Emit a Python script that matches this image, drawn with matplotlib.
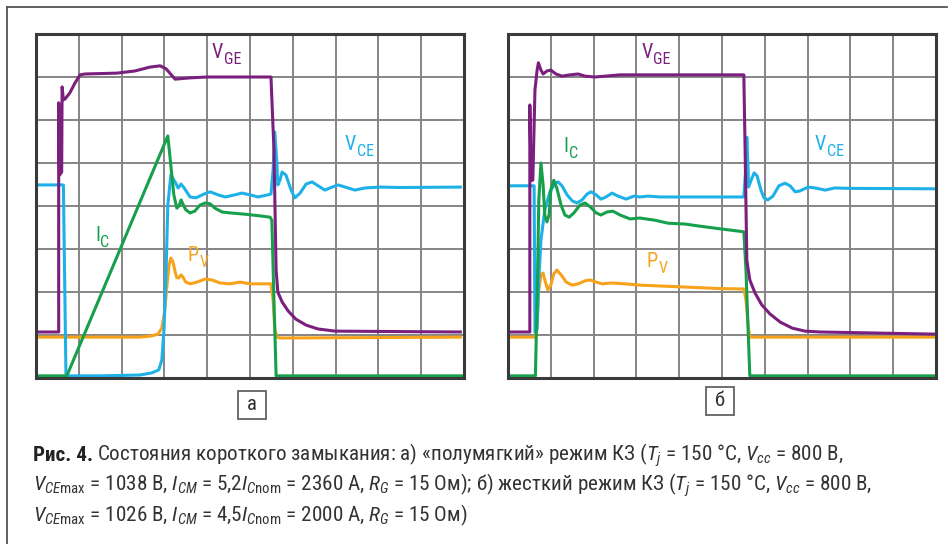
import matplotlib
matplotlib.use("Agg")
from matplotlib import pyplot as plt
from matplotlib import font_manager
from matplotlib.font_manager import FontProperties
from matplotlib.lines import Line2D
from matplotlib.patches import Rectangle

W, H = 949, 544

PURPLE = "#7b1f7e"
CYAN = "#1db1e8"
GREEN = "#17a04c"
ORANGE = "#f6a31b"


def pick_font(names):
    for name in names:
        try:
            font_manager.findfont(FontProperties(family=name), fallback_to_default=False)
            return name
        except ValueError:
            continue
    return "DejaVu Sans"


FONT = pick_font(["Liberation Sans Narrow", "DejaVu Sans Condensed",
                  "Roboto Condensed", "Liberation Sans"])
plt.rcParams["font.family"] = [FONT, "DejaVu Sans"]
plt.rcParams["mathtext.fontset"] = "custom"
plt.rcParams["mathtext.rm"] = FONT
plt.rcParams["mathtext.it"] = FONT + ":italic"
plt.rcParams["mathtext.bf"] = FONT + ":bold"

# Oscillograms in screen divisions (10 x 8).
# (а) semi-soft short circuit
a_vge_t = [0, 0.53, 0.53, 0.55, 0.60, 0.61, 0.64, 0.68, 0.79, 0.91, 1.03, 1.14, 1.89, 2.31,
           2.66, 2.90, 3.04, 3.25, 3.60, 4.00, 5.49, 5.56, 5.61, 5.65, 5.75, 5.89, 6.07, 6.31,
           6.59, 6.99, 9.95]
a_vge_v = [1.07, 1.07, 6.40, 4.72, 4.79, 6.77, 6.47, 6.49, 6.63, 6.86, 7.05, 7.07, 7.09, 7.14,
           7.23, 7.26, 7.19, 6.95, 6.98, 7.00, 7.00, 5.30, 2.51, 2.00, 1.77, 1.56, 1.37, 1.23,
           1.14, 1.09, 1.07]

a_vce_t = [0, 0.64, 0.70, 1.50, 2.43, 2.71, 2.87, 2.94, 2.99, 3.04, 3.08, 3.15, 3.25, 3.32,
           3.39, 3.46, 3.60, 3.74, 3.93, 4.07, 4.25, 4.42, 4.65, 4.81, 5.00, 5.19, 5.42, 5.49,
           5.54, 5.58, 5.63, 5.65, 5.70, 5.75, 5.84, 5.96, 6.05, 6.17, 6.31, 6.45, 6.59, 6.75,
           6.92, 7.06, 7.29, 7.45, 7.69, 8.04, 8.50, 9.95]
a_vce_v = [4.49, 4.49, 0.05, 0.05, 0.07, 0.12, 0.19, 0.42, 1.12, 2.51, 4.02, 4.72, 4.56, 4.42,
           4.51, 4.42, 4.21, 4.19, 4.28, 4.33, 4.26, 4.21, 4.26, 4.30, 4.26, 4.21, 4.26, 4.28,
           4.84, 5.72, 4.95, 4.49, 4.60, 4.79, 4.72, 4.37, 4.19, 4.30, 4.51, 4.56, 4.47, 4.37,
           4.44, 4.49, 4.42, 4.37, 4.42, 4.44, 4.43, 4.44]

a_ic_t = [0, 0.72, 3.08, 3.15, 3.22, 3.29, 3.34, 3.39, 3.43, 3.50, 3.60, 3.71, 3.83, 3.95,
          4.07, 4.18, 4.35, 4.53, 4.88, 5.23, 5.47, 5.51, 5.56, 5.61, 10]
a_ic_v = [0.05, 0.05, 5.63, 4.95, 4.26, 3.95, 4.00, 4.14, 4.05, 3.91, 3.84, 3.88, 4.02, 4.07,
          4.05, 3.95, 3.86, 3.84, 3.81, 3.77, 3.74, 3.67, 1.81, 0.05, 0.05]

a_pv_t = [0, 1.50, 2.43, 2.71, 2.85, 2.94, 3.01, 3.06, 3.11, 3.15, 3.20, 3.25, 3.29, 3.34,
          3.39, 3.43, 3.50, 3.60, 3.76, 3.95, 4.11, 4.30, 4.53, 4.77, 5.00, 5.49, 5.54, 5.58,
          5.63, 5.70, 9.95]
a_pv_v = [0.95, 0.95, 0.95, 0.98, 1.02, 1.16, 1.58, 2.16, 2.63, 2.79, 2.70, 2.47, 2.33, 2.33,
          2.40, 2.35, 2.23, 2.19, 2.23, 2.30, 2.28, 2.21, 2.19, 2.23, 2.19, 2.19, 1.81, 1.12,
          0.95, 0.93, 0.95]

# (б) hard short circuit
b_vge_t = [0, 0.51, 0.51, 0.54, 0.58, 0.63, 0.68, 0.71, 0.77, 0.82, 0.91, 1.00, 1.12, 1.26,
           1.45, 1.64, 1.80, 2.03, 2.27, 2.62, 5.51, 5.54, 5.58, 5.65, 5.77, 5.93, 6.12, 6.36,
           6.64, 6.94, 7.29, 9.98]
b_vge_v = [1.07, 1.07, 6.35, 4.60, 4.60, 6.70, 7.16, 7.33, 7.16, 7.07, 7.14, 7.16, 7.07, 7.02,
           7.05, 7.07, 7.02, 7.00, 7.02, 7.05, 7.05, 5.30, 2.74, 2.28, 1.98, 1.70, 1.49, 1.30,
           1.16, 1.09, 1.07, 1.02]

b_vce_t = [0, 0.58, 0.61, 0.63, 0.68, 0.72, 0.77, 0.86, 0.98, 1.10, 1.17, 1.26, 1.38, 1.50,
           1.61, 1.73, 1.85, 1.94, 2.06, 2.17, 2.29, 2.43, 2.57, 2.76, 2.94, 3.08, 3.27, 3.55,
           5.51, 5.56, 5.58, 5.61, 5.62, 5.68, 5.75, 5.82, 5.91, 5.98, 6.07, 6.19, 6.33, 6.47,
           6.59, 6.71, 6.82, 7.01, 7.17, 7.41, 7.64, 7.99, 9.98]
b_vce_v = [4.47, 4.47, 4.47, 1.07, 1.12, 2.28, 3.21, 3.91, 4.33, 4.53, 4.56, 4.47, 4.26, 4.12,
           4.07, 4.14, 4.28, 4.33, 4.26, 4.16, 4.21, 4.30, 4.23, 4.16, 4.23, 4.21, 4.23, 4.21,
           4.21, 4.95, 5.60, 4.84, 4.44, 4.60, 4.77, 4.70, 4.37, 4.19, 4.14, 4.23, 4.47, 4.53,
           4.47, 4.33, 4.35, 4.44, 4.42, 4.37, 4.42, 4.41, 4.40]

b_ic_t = [0, 0.64, 0.68, 0.72, 0.77, 0.82, 0.86, 0.91, 0.96, 1.00, 1.07, 1.14, 1.24, 1.33,
          1.43, 1.54, 1.68, 1.80, 1.92, 2.06, 2.17, 2.31, 2.45, 2.62, 2.85, 3.08, 3.43, 3.74,
          4.14, 4.49, 4.95, 5.51, 5.56, 5.61, 5.65, 10]
b_ic_v = [0.05, 0.05, 1.81, 4.14, 5.00, 4.49, 3.79, 3.63, 3.79, 4.37, 4.60, 4.42, 4.02, 3.79,
          3.74, 3.84, 4.02, 4.07, 3.98, 3.84, 3.79, 3.86, 3.88, 3.79, 3.70, 3.72, 3.67, 3.60,
          3.58, 3.53, 3.47, 3.40, 2.51, 1.12, 0.05, 0.05]

b_pv_t = [0, 0.63, 0.68, 0.72, 0.77, 0.82, 0.86, 0.93, 1.00, 1.07, 1.14, 1.24, 1.36, 1.50,
          1.64, 1.80, 1.92, 2.06, 2.20, 2.43, 2.73, 3.08, 4.02, 4.95, 5.51, 5.56, 5.61, 5.65,
          9.98]
b_pv_v = [0.95, 0.95, 1.35, 2.05, 2.40, 2.44, 2.28, 2.05, 2.16, 2.42, 2.51, 2.40, 2.23, 2.16,
          2.19, 2.26, 2.28, 2.23, 2.19, 2.21, 2.19, 2.16, 2.12, 2.08, 2.07, 1.81, 1.23, 0.95,
          0.95]

# Trace labels: (symbol, subscript, colour, x, baseline y) in divisions
a_labels = [("V", "GE", PURPLE, 4.11, 7.35),
            ("V", "CE", CYAN, 7.22, 5.21),
            ("I", "C", GREEN, 1.38, 3.09),
            ("P", "V", ORANGE, 3.55, 2.63)]
b_labels = [("V", "GE", PURPLE, 3.12, 7.35),
            ("I", "C", GREEN, 1.29, 5.16),
            ("V", "CE", CYAN, 7.17, 5.21),
            ("P", "V", ORANGE, 3.24, 2.49)]

caption_head = "Рис. 4."
caption_line1 = (r"Состояния короткого замыкания: а) «полумягкий» режим КЗ "
                 r"($T_j$ = 150 °C, $V_{cc}$ = 800 В,")
caption_line2 = (r"$V_{CE\mathrm{max}}$ = 1038 В, $I_{CM}$ = 5,2$I_{C\mathrm{nom}}$ = 2360 А, "
                 r"$R_G$ = 15 Ом); б) жесткий режим КЗ ($T_j$ = 150 °C, $V_{cc}$ = 800 В,")
caption_line3 = r"$V_{CE\mathrm{max}}$ = 1026 В, $I_{CM}$ = 4,5$I_{C\mathrm{nom}}$ = 2000 А, $R_G$ = 15 Ом)"


def fx(px):
    return px / W


def fy(py):
    return 1 - py / H


def scope(ax, traces, labels):
    ax.set_xlim(0, 10)
    ax.set_ylim(0, 8)
    ax.set_xticks(range(11))
    ax.set_yticks(range(9))
    ax.tick_params(length=0, labelbottom=False, labelleft=False)
    ax.grid(color="#858585", linewidth=1.4)
    ax.set_axisbelow(True)
    for spine in ax.spines.values():
        spine.set_color("#3a3a3a")
        spine.set_linewidth(2.2)
    for t, v, color in traces:
        ax.plot(t, v, color=color, linewidth=2.2, solid_joinstyle="round",
                solid_capstyle="butt")
    for sym, sub, color, x, y in labels:
        main = ax.text(x, y, sym, color=color, fontsize=14.5, ha="left", va="bottom")
        ax.annotate(sub, xy=(1, 0), xycoords=main, xytext=(0.3, -3.5),
                    textcoords="offset points", color=color, fontsize=11.5,
                    ha="left", va="bottom")


fig = plt.figure(figsize=(W / 100, H / 100), dpi=100)

ax_a = fig.add_axes([fx(36), fy(378), fx(428), 344 / H])
scope(ax_a, [(a_pv_t, a_pv_v, ORANGE), (a_vce_t, a_vce_v, CYAN),
             (a_ic_t, a_ic_v, GREEN), (a_vge_t, a_vge_v, PURPLE)], a_labels)

ax_b = fig.add_axes([fx(508), fy(378), fx(428), 344 / H])
scope(ax_b, [(b_pv_t, b_pv_v, ORANGE), (b_vce_t, b_vce_v, CYAN),
             (b_ic_t, b_ic_v, GREEN), (b_vge_t, b_vge_v, PURPLE)], b_labels)

# Panel letters in small boxes under each screen
for letter, x0, y0 in [("а", 238, 391), ("б", 706, 387)]:
    fig.add_artist(Rectangle((fx(x0), fy(y0 + 28)), fx(28), 28 / H,
                             transform=fig.transFigure, facecolor="white",
                             edgecolor="#555555", linewidth=1.2))
    fig.text(fx(x0 + 14), fy(y0 + 14), letter, fontsize=15, color="#333333",
             ha="center", va="center")

# Frame around the figure
fig.add_artist(Line2D([fx(7), fx(947)], [fy(7), fy(7)], transform=fig.transFigure,
                      color="#555555", linewidth=1.3))
fig.add_artist(Line2D([fx(7), fx(7)], [fy(7), fy(544)], transform=fig.transFigure,
                      color="#555555", linewidth=1.3))

# Caption
head = fig.text(fx(33), fy(461), caption_head, fontsize=15.2, fontweight="bold",
                color="#222222", ha="left", va="baseline")
fig.canvas.draw()
head_end = head.get_window_extent().x1 / fig.bbox.width
fig.text(head_end + fx(4), fy(461), caption_line1, fontsize=15.2, color="#333333",
         ha="left", va="baseline")
fig.text(fx(33), fy(491), caption_line2, fontsize=15.2, color="#333333",
         ha="left", va="baseline")
fig.text(fx(33), fy(521), caption_line3, fontsize=15.2, color="#333333",
         ha="left", va="baseline")

fig.savefig("out.png", dpi=100)
